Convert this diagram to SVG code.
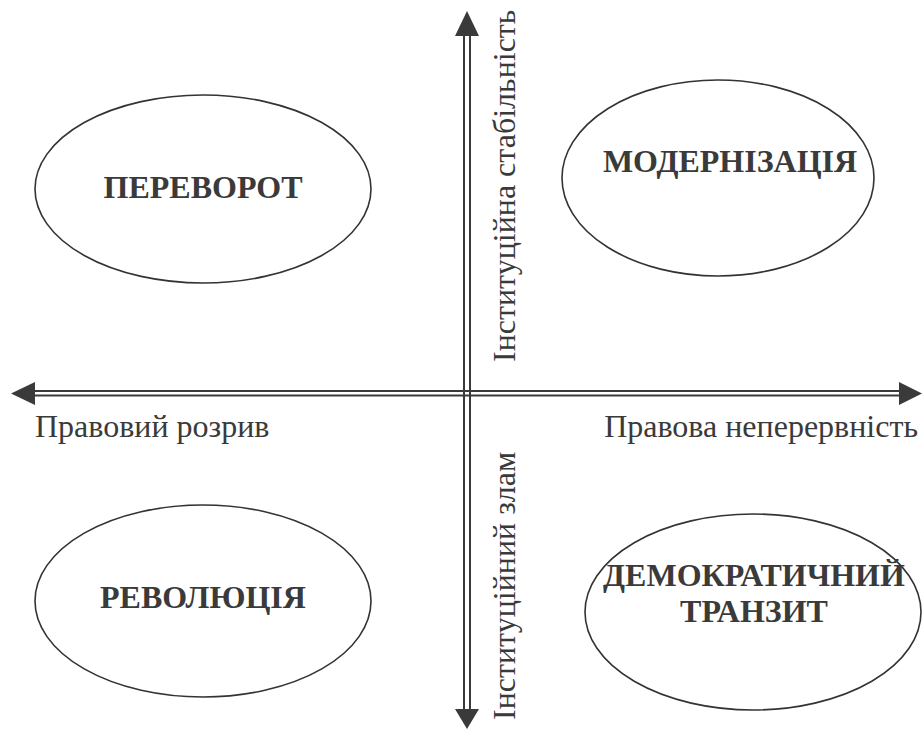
<svg xmlns="http://www.w3.org/2000/svg" width="924" height="729" viewBox="0 0 924 729">
<style>
.ell{fill:none;stroke:#333;stroke-width:1.6}
.ax{stroke:#3a3a3a;stroke-width:2;fill:none}
.head{fill:#3a3a3a}
.lbl{font-family:"Liberation Serif","Times New Roman",serif;font-size:32px;font-weight:bold;fill:#3a3a3a;text-anchor:middle}
.axl{font-family:"Liberation Serif","Times New Roman",serif;font-size:32px;fill:#3a3a3a}
</style>
<rect width="924" height="729" fill="#fff"/>
<g id="connectors">
<line class="ax" x1="464" y1="34" x2="464" y2="711"/>
<line class="ax" x1="470" y1="34" x2="470" y2="711"/>
<polygon class="head" points="467,11 455,36 479,36"/>
<polygon class="head" points="467,729 455,709 479,709"/>
<line class="ax" x1="33" y1="391" x2="901" y2="391"/>
<line class="ax" x1="33" y1="395.5" x2="901" y2="395.5"/>
<polygon class="head" points="11,393.5 35,382 35,405"/>
<polygon class="head" points="922,393.5 899,382 899,405"/>
<text class="axl" transform="translate(515,362) rotate(-90)">Інституційна стабільність</text>
<text class="axl" transform="translate(515,720) rotate(-90)">Інституційний злам</text>
<text class="axl" x="35" y="437">Правовий розрив</text>
<text class="axl" x="918" y="437" text-anchor="end">Правова неперервність</text>
</g>
<g id="node-perevorot">
<ellipse class="ell" cx="203" cy="189" rx="168" ry="94"/>
<text class="lbl" x="203" y="198">ПЕРЕВОРОТ</text>
</g>
<g id="node-modernizatsiia">
<ellipse class="ell" cx="718" cy="178" rx="156" ry="98"/>
<text class="lbl" x="730" y="172">МОДЕРНІЗАЦІЯ</text>
</g>
<g id="node-revoliutsiia">
<ellipse class="ell" cx="203" cy="601" rx="168" ry="96"/>
<text class="lbl" x="203" y="608">РЕВОЛЮЦІЯ</text>
</g>
<g id="node-demokratychnyi-tranzyt">
<ellipse class="ell" cx="753" cy="612" rx="168" ry="98"/>
<text class="lbl" x="754" y="586">ДЕМОКРАТИЧНИЙ</text>
<text class="lbl" x="754" y="622">ТРАНЗИТ</text>
</g>
</svg>
